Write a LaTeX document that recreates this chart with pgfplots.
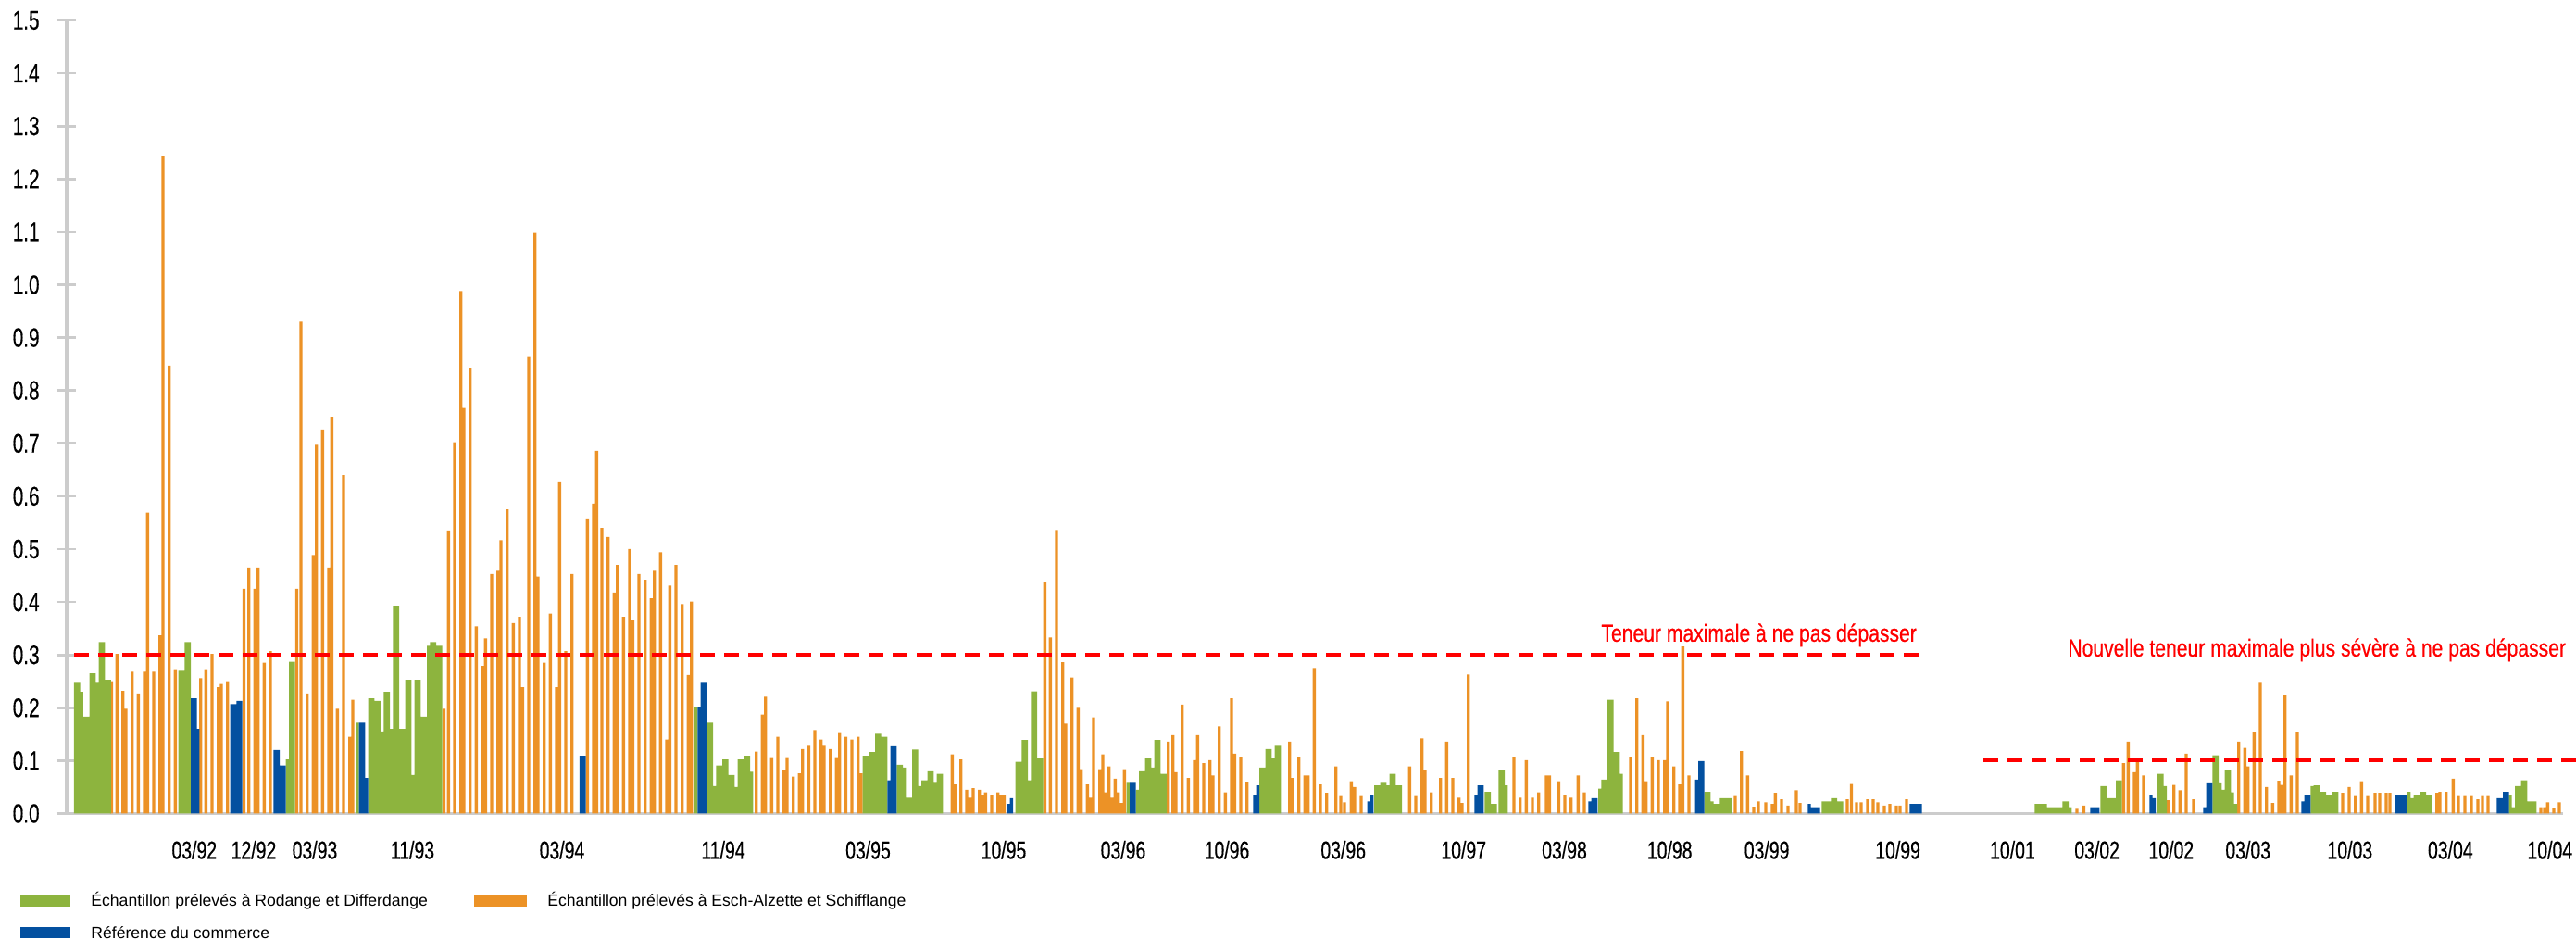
\documentclass[border=0pt]{standalone}
\usepackage{pgfplots}
\pgfplotsset{compat=1.18}
\usepackage{fontspec}
\setmainfont{Liberation Sans}
\newfontfamily\condfont[FakeStretch=0.72,FakeBold=0.4]{Liberation Sans}
\newfontfamily\redfont[FakeStretch=0.8,FakeBold=0.5]{Liberation Sans}
\definecolor{cgreen}{HTML}{8DB43E}
\definecolor{corange}{HTML}{EC9226}
\definecolor{cblue}{HTML}{0350A0}
\definecolor{axisgray}{HTML}{CCCCCC}
\begin{document}
\begin{tikzpicture}
\begin{axis}[
  scale only axis, width=1348pt, height=428.25pt,
  xmin=72, xmax=2768, ymin=0, ymax=1.5,
  axis x line=bottom, axis y line=left,
  axis line style={draw=axisgray, line width=1.9pt, -},
  ytick={0,0.1,0.2,0.3,0.4,0.5,0.6,0.7,0.8,0.9,1.0,1.1,1.2,1.3,1.4,1.5},
  yticklabel style={/pgf/number format/fixed, /pgf/number format/fixed zerofill,
    /pgf/number format/precision=1, /pgf/number format/assume math mode=true,
    font=\condfont\fontsize{14.4}{16}\selectfont, anchor=east, inner sep=0pt, xshift=-9.5pt},
  ytick style={draw=axisgray, line width=1.4pt},
  tick align=center, major tick length=10pt,
  xtick={209.8,274,340,445.5,607,781,937.5,1084,1213,1325,1450.7,1580.7,1689.5,1803.2,1908.1,2049.6,2173.4,2264.6,2344.8,2427.7,2537.8,2646.3,2753.8},
  xticklabels={03/92,12/92,03/93,11/93,03/94,11/94,03/95,10/95,03/96,10/96,03/96,10/97,03/98,10/98,03/99,10/99,10/01,03/02,10/02,03/03,10/03,03/04,10/04},
  xtick style={draw=none},
  xticklabel style={font=\condfont\fontsize{13.5}{15}\selectfont, anchor=north, inner sep=0pt, yshift=-9.5pt},
  clip=false,
]
% Orange: Esch-Alzette et Schifflange
\addplot[ybar, bar width=3.4, bar shift=0pt, fill=corange, draw=none] coordinates {
(120.5,0.25)(126.3,0.302)(132.7,0.232)(136,0.198)(142.7,0.268)(149.3,0.227)(156,0.268)(159.3,0.569)(166,0.268)(172.7,0.337)(176,1.243)(182.7,0.847)(189.3,0.273)
(216.7,0.256)(222.3,0.273)(229,0.302)(235.7,0.239)(239,0.245)(245.7,0.25)
(263.5,0.425)(268.7,0.465)(275.3,0.425)(278.7,0.465)(285.3,0.285)(292,0.307)
(320.5,0.425)(325,0.93)(331.7,0.227)(338.3,0.489)(341.7,0.697)(348.3,0.726)(355,0.465)(358.3,0.75)(364.3,0.198)(371,0.64)(377.7,0.145)(381,0.215)
(479.5,0.198)(484.3,0.535)(491,0.702)(497.7,0.988)(501,0.767)(507.7,0.843)(514.3,0.354)(521,0.279)(524.3,0.331)(531,0.453)(537.7,0.459)(541,0.517)(547.7,0.575)(554.3,0.36)(561,0.372)(564.3,0.239)(571,0.865)(577.7,1.098)(581,0.448)(587.7,0.285)(594.3,0.378)(601,0.239)(604.3,0.628)(611,0.307)(617.7,0.453)
(634.3,0.558)(641,0.586)(644.3,0.686)(650,0.54)(656.7,0.523)(663.3,0.418)(666.7,0.47)(673.3,0.372)(680,0.5)(683.3,0.366)(690,0.453)(696.7,0.442)(703.3,0.407)(706.7,0.459)(713.3,0.494)(720,0.14)(723.3,0.431)(730,0.47)(736.7,0.396)(743.3,0.262)(746.7,0.401)
(816.7,0.117)(823.3,0.187)(826.7,0.221)(833.3,0.105)(840,0.145)(846.7,0.083)(850,0.105)(856.7,0.07)(863.3,0.076)(866.7,0.122)(873.3,0.128)(880,0.158)(886.7,0.14)(890,0.128)(896.7,0.122)(903.3,0.105)(906.7,0.152)(913.3,0.145)(920,0.14)(926.7,0.145)(930,0.076)
(1028.3,0.112)(1031.7,0.055)(1037.7,0.102)(1044,0.045)(1047.3,0.03)(1051,0.048)(1057.7,0.045)(1061,0.035)(1064.3,0.04)(1071,0.035)(1077.7,0.04)(1081,0.035)(1084.3,0.035)
(1128.3,0.438)(1134.3,0.333)(1141,0.536)(1147.7,0.286)(1151,0.17)(1157.7,0.257)(1164.3,0.2)(1167.7,0.084)(1174.3,0.055)(1177.7,0.03)(1181,0.182)(1187.7,0.084)(1191,0.112)(1194.3,0.04)(1197.7,0.089)(1201,0.03)(1204.3,0.066)(1207.7,0.04)(1211,0.02)(1214.3,0.084)
(1261.7,0.136)(1266.7,0.148)(1270,0.078)(1276.7,0.206)(1283.3,0.067)(1290,0.101)(1293.3,0.148)(1300,0.095)(1306.7,0.101)(1310,0.072)(1316.7,0.165)(1323.3,0.04)(1330,0.218)(1333.3,0.113)(1340,0.107)(1346.7,0.06)
(1392.7,0.136)(1396,0.067)(1402.7,0.107)(1409.3,0.072)(1412.7,0.072)(1419.3,0.275)(1426,0.055)(1432.7,0.039)(1442.7,0.089)(1448,0.033)(1452,0.021)(1459.3,0.061)(1463,0.05)(1470,0.033)
(1522.3,0.089)(1529,0.033)(1535.7,0.142)(1539,0.083)(1545.7,0.04)(1555.7,0.067)(1562.3,0.136)(1569,0.067)(1575.7,0.03)(1579,0.02)(1585.7,0.263)
(1635,0.107)(1641.7,0.03)(1648.3,0.101)(1655,0.03)(1661.7,0.04)(1670,0.072)(1673.3,0.072)(1683.3,0.061)(1690,0.035)(1696.7,0.03)(1704.3,0.072)(1711,0.04)
(1761,0.107)(1767.7,0.218)(1774.3,0.148)(1777.7,0.061)(1784.3,0.107)(1791,0.101)(1797.7,0.101)(1801,0.212)(1807.7,0.089)(1814,0.055)(1817.3,0.316)(1824,0.072)
(1874,0.033)(1880.7,0.118)(1887.3,0.072)(1894,0.013)(1899,0.023)(1907,0.021)(1914,0.018)(1917.3,0.039)(1924,0.027)(1931,0.015)(1940,0.044)(1944,0.02)
(1995,0.027)(1999.5,0.056)(2005,0.021)(2010,0.021)(2017,0.027)(2023,0.027)(2028,0.021)(2035,0.015)(2041,0.018)(2048,0.015)(2052,0.015)(2059,0.027)
(2243,0.009)(2250.5,0.015)
(2293.3,0.095)(2298.3,0.136)(2305,0.078)(2308.3,0.1)(2315,0.072)
(2341.7,0.025)(2347.7,0.054)(2354.3,0.044)(2361,0.113)(2369,0.027)
(2417.7,0.136)(2424.3,0.124)(2427.7,0.089)(2434.3,0.154)(2441,0.247)(2447.7,0.05)(2454.3,0.02)(2461,0.062)(2464.3,0.054)(2467.7,0.224)(2474.3,0.072)(2481,0.154)
(2530,0.039)(2537,0.05)(2543.7,0.033)(2550.3,0.061)(2557,0.033)(2565,0.039)(2570,0.039)(2577,0.039)(2581,0.039)
(2631.7,0.039)(2635,0.041)(2641.7,0.041)(2649.3,0.066)(2655,0.033)(2662,0.033)(2669,0.033)(2676,0.027)(2681,0.033)(2687,0.033)
(2744,0.012)(2748,0.012)(2751.3,0.021)(2758,0.01)(2764,0.021)
};
% Green: Rodange et Differdange
\addplot[ybar, bar width=3.4, bar shift=0pt, fill=cgreen, draw=none] coordinates {
(81.7,0.247)(85,0.247)(88.3,0.23)(91.7,0.183)(95,0.183)(98.3,0.265)(101.7,0.265)(105,0.247)(108.3,0.324)(111.7,0.324)(115,0.253)(118.3,0.253)
(194.3,0.27)(197.7,0.27)(201,0.324)(204.3,0.324)
(310.3,0.102)(313.7,0.287)(317,0.287)
(386,0.172)
(399.3,0.218)(402.7,0.218)(406,0.213)(409.3,0.213)(412.7,0.155)(416,0.23)(419.3,0.23)(422.7,0.16)(426,0.393)(429.3,0.393)(432.7,0.16)(436,0.16)(439.3,0.253)(442.7,0.253)(446,0.073)(449.3,0.253)(452.7,0.253)(456,0.183)(459.3,0.183)(462.7,0.317)(466,0.324)(469.3,0.324)(472.7,0.317)(476,0.317)
(751.7,0.201)
(765,0.172)(768.3,0.172)(771.7,0.052)(775,0.091)(778.3,0.091)(781.7,0.102)(785,0.102)(788.3,0.073)(791.7,0.073)(795,0.05)(798.3,0.102)(801.7,0.102)(805,0.109)(808.3,0.109)(811.7,0.079)
(933.3,0.109)(936.7,0.109)(940,0.116)(943.3,0.116)(946.7,0.151)(950,0.151)(953.3,0.145)(956.7,0.145)
(970,0.092)(973.3,0.092)(976.7,0.087)(980,0.03)(983.3,0.03)(986.7,0.121)(990,0.121)(993.3,0.052)(996.7,0.063)(1000,0.063)(1003.3,0.08)(1006.7,0.08)(1010,0.058)(1013.3,0.075)(1016.7,0.075)
(1098.3,0.098)(1101.7,0.098)(1105,0.139)(1108.3,0.139)(1111.7,0.063)(1115,0.231)(1118.3,0.231)(1121.7,0.104)(1125,0.104)
(1218.3,0.058)
(1228.3,0.045)(1231.7,0.08)(1235,0.08)(1238.3,0.104)(1241.7,0.104)(1245,0.087)(1248.3,0.139)(1251.7,0.139)(1255,0.075)(1258.3,0.075)
(1361.7,0.087)(1365,0.087)(1368.3,0.122)(1371.7,0.122)(1375,0.104)(1378.3,0.128)(1381.7,0.128)
(1485.7,0.053)(1489,0.053)(1492.3,0.058)(1495.7,0.058)(1499,0.053)(1502.3,0.075)(1505.7,0.075)(1509,0.053)(1512.3,0.053)
(1605,0.041)(1608.3,0.041)(1611.7,0.018)(1615,0.018)(1620,0.081)(1623.3,0.081)(1626.7,0.053)
(1727.7,0.047)(1731,0.064)(1734.3,0.064)(1737.7,0.215)(1741,0.215)(1744.3,0.116)(1747.7,0.116)(1751,0.075)
(1842.3,0.041)(1845.7,0.041)(1849,0.023)(1852.3,0.018)(1855.7,0.018)(1859,0.029)(1862.3,0.029)(1865.7,0.029)(1869,0.029)
(1969,0.023)(1972.3,0.023)(1975.7,0.023)(1979,0.029)(1982.3,0.029)(1985.7,0.023)(1989,0.023)
(2199,0.018)(2202.3,0.018)(2205.7,0.018)(2209,0.018)(2212.3,0.012)(2215.7,0.012)(2219,0.012)(2222.3,0.012)(2225.7,0.012)(2229,0.023)(2232.3,0.023)(2235.7,0.012)
(2270,0.052)(2273.3,0.052)(2276.7,0.029)(2280,0.029)(2283.3,0.029)(2286.7,0.063)(2290,0.063)
(2331.7,0.075)(2335,0.075)(2338.3,0.052)
(2391,0.11)(2394.3,0.11)(2397.7,0.057)(2401,0.045)(2404.3,0.081)(2407.7,0.081)(2411,0.04)(2414.3,0.018)
(2497,0.052)(2500.3,0.053)(2503.7,0.053)(2507,0.041)(2510.3,0.041)(2513.7,0.035)(2517,0.035)(2520.3,0.041)(2523.7,0.041)
(2601.7,0.041)(2605,0.029)(2608.3,0.035)(2611.7,0.035)(2615,0.041)(2618.3,0.041)(2621.7,0.035)(2625,0.035)
(2711,0.035)(2714.3,0.012)(2717.7,0.052)(2721,0.052)(2724.3,0.063)(2727.7,0.063)(2731,0.023)(2734.3,0.023)(2737.7,0.023)
};
% Blue: Référence du commerce
\addplot[ybar, bar width=3.4, bar shift=0pt, fill=cblue, draw=none] coordinates {
(207.7,0.218)(211,0.218)(213.7,0.16)
(250.3,0.207)(253.7,0.207)(257,0.213)(260,0.213)
(297,0.12)(300.3,0.12)(303.7,0.091)(307,0.091)
(389.3,0.172)(392.7,0.172)(396,0.067)
(627.5,0.109)(630.8,0.109)
(755,0.201)(758.3,0.247)(761.7,0.247)
(960,0.063)(963.3,0.127)(966.7,0.127)
(1089,0.018)(1092.3,0.029)
(1221.7,0.058)(1225,0.058)
(1355,0.035)(1358.3,0.053)
(1478.3,0.023)(1481.7,0.035)
(1594,0.035)(1597.3,0.053)(1600.7,0.053)
(1717,0.023)(1720.3,0.029)(1723.7,0.029)
(1832.3,0.064)(1835.7,0.099)(1839,0.099)
(1954,0.018)(1957.3,0.012)(1960.7,0.012)(1964,0.012)
(2064,0.018)(2067.3,0.018)(2070.7,0.018)(2074,0.018)
(2259,0.012)(2262.3,0.012)(2265.7,0.012)
(2323,0.035)(2326.3,0.029)
(2381,0.012)(2384.3,0.057)(2387.7,0.057)
(2487,0.023)(2490.3,0.035)(2493.7,0.035)
(2588,0.035)(2591.3,0.035)(2594.7,0.035)(2598,0.035)
(2698,0.029)(2701.3,0.029)(2704.7,0.041)(2708,0.041)
};
% limits
\addplot[red, line width=2pt, dash pattern=on 8pt off 5pt, forget plot] coordinates {(80,0.3) (2080,0.3)};
\addplot[red, line width=2pt, dash pattern=on 8pt off 5pt, forget plot] coordinates {(2142,0.1) (2782,0.1)};
\node[anchor=base west, text=red, inner sep=0pt, font=\redfont\fontsize{13.2}{15}\selectfont] at (axis cs:1729,0.325) {Teneur maximale à ne pas dépasser};
\node[anchor=base west, text=red, inner sep=0pt, font=\redfont\fontsize{13.2}{15}\selectfont] at (axis cs:2233,0.297) {Nouvelle teneur maximale plus sévère à ne pas dépasser};
\draw[axisgray, line width=1.9pt] (axis cs:62,0) -- (axis cs:72,0);
% legend
\fill[cgreen] (axis cs:22,-0.1541) rectangle (axis cs:76,-0.1769);
\node[anchor=west, inner sep=0pt, font=\fontsize{8.8}{10}\selectfont] at (axis cs:98,-0.1655) {Échantillon prélevés à Rodange et Differdange};
\fill[corange] (axis cs:512,-0.1541) rectangle (axis cs:569,-0.1769);
\node[anchor=west, inner sep=0pt, font=\fontsize{8.8}{10}\selectfont] at (axis cs:591,-0.1655) {Échantillon prélevés à Esch-Alzette et Schifflange};
\fill[cblue] (axis cs:22,-0.2154) rectangle (axis cs:76,-0.2364);
\node[anchor=west, inner sep=0pt, font=\fontsize{8.8}{10}\selectfont] at (axis cs:98,-0.2259) {Référence du commerce};
\coordinate (bbll) at (axis cs:0,-0.2364);
\coordinate (bbur) at (axis cs:2782,1.5385);
\end{axis}
\pgfresetboundingbox
\path (bbll) rectangle (bbur);
\end{tikzpicture}
\end{document}
